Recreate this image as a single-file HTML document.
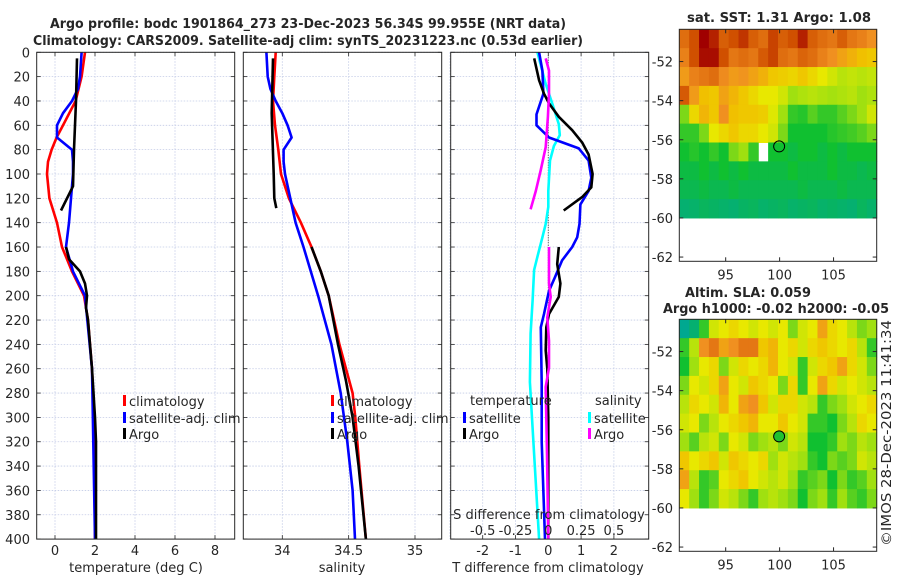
<!DOCTYPE html>
<html><head><meta charset="utf-8"><style>
html,body{margin:0;padding:0;background:#fff;width:900px;height:580px;overflow:hidden}
svg{display:block;font-family:"DejaVu Sans","Liberation Sans",sans-serif}
text{fill:#262626;font-size:13px}
</style></head><body>
<svg id="fig" width="900" height="580" viewBox="0 0 900 580"></svg>
<script>
// ---------- DATA ----------
const depthTicks=[0,20,40,60,80,100,120,140,160,180,200,220,240,260,280,300,320,340,360,380,400];
const tempTicks=[0,2,4,6,8];
const salTicks=[34,34.5,35];
const salTickLabels=["34","34.5","35"];
const tdiffTicks=[-2,-1,0,1,2];
const sdiffTicks=[-0.5,-0.25,0,0.25,0.5];
const sdiffTickLabels=["-0.5","-0.25","0","0.25","0.5"];

const climTDepth=[0,20,40,60,70,80,90,100,120,140,160,180,200,220,260,300,400];
const climT=[1.5,1.33,1.03,0.4,0.08,-0.17,-0.35,-0.4,-0.28,0.1,0.35,0.85,1.45,1.65,1.85,1.95,2.0];
const satTDepth=[0,20,30,40,50,60,70,80,90,100,110,120,140,160,180,200,260,400];
const satT=[1.33,1.25,1.15,0.85,0.4,0.1,0.1,0.85,0.9,0.9,0.85,0.8,0.7,0.55,0.9,1.5,1.85,2.0];
const argoT1Depth=[5,40,80,110,115,130];
const argoT1=[1.1,1.05,0.95,0.9,0.75,0.3];
const argoT2Depth=[160,170,180,190,200,210,220,240,260,300,320,400];
const argoT2=[0.55,0.7,1.25,1.5,1.6,1.55,1.65,1.75,1.85,2.0,2.05,2.05];

const climSDepth=[0,20,40,60,80,100,120,140,160,180,200,240,280,300,340,400];
const climS=[33.95,33.94,33.93,33.945,33.97,33.99,34.05,34.14,34.22,34.29,34.35,34.43,34.53,34.55,34.58,34.63];
const satSDepth=[0,20,30,40,50,60,70,80,90,100,120,140,160,200,240,280,320,360,400];
const satS=[33.88,33.89,33.91,33.95,34.0,34.04,34.07,34.01,34.01,34.02,34.06,34.1,34.16,34.27,34.37,34.44,34.49,34.53,34.548];
const argoS1Depth=[5,50,100,120,128];
const argoS1=[33.93,33.92,33.935,33.94,33.955];
const argoS2Depth=[160,180,200,240,270,300,340,400];
const argoS2=[34.22,34.29,34.35,34.42,34.48,34.53,34.575,34.63];

const dArgoT1Depth=[5,23,34,42,53,64,74,84,100,111,119,130];
const dArgoT1=[-0.43,-0.28,-0.13,0.02,0.32,0.73,1.03,1.23,1.35,1.31,1.03,0.47];
const dArgoT2Depth=[160,174,190,201,215,226,245,260,300,400];
const dArgoT2=[0.32,0.27,0.37,0.32,0.02,-0.06,-0.08,-0.03,0,0];
const dSatTDepth=[0,15,34,51,60,70,79,89,103,114,125,141,152,160,171,185,196,215,226,272,320,400];
const dSatT=[-0.28,-0.18,-0.15,-0.36,-0.36,0.02,0.93,1.23,1.31,1.23,0.98,0.95,0.88,0.73,0.42,0.2,0.02,-0.13,-0.23,-0.2,-0.2,-0.1];
const dSatSDepth=[0,26,42,59,68,77,89,114,127,141,152,168,179,204,231,271,400];
const dSatS=[-0.083,-0.02,0.03,0.08,0.088,0.043,0.013,0,0,-0.02,-0.045,-0.083,-0.108,-0.12,-0.135,-0.14,-0.07];
const dArgoS1Depth=[5,15,34,53,78,97,114,129];
const dArgoS1=[-0.02,0.005,0.005,-0.003,-0.02,-0.058,-0.095,-0.135];
const dArgoS2Depth=[160,190,201,218,237,259,275,330,400];
const dArgoS2=[0.005,0.005,0.018,-0.008,0.005,0.005,-0.02,-0.01,0];

const latTicks=[-52,-54,-56,-58,-60,-62];
const lonTicks=[95,100,105];
const argoLon=99.955, argoLat=-56.34;
const sstGrid=[
[.82,.88,1,.95,.85,.88,.92,.85,.82,.9,.85,.88,.95,.85,.82,.8,.85,.8,.78,.75],
[.78,.88,.98,.98,.88,.8,.82,.8,.86,.9,.82,.8,.84,.82,.78,.75,.7,.66,.62,.6],
[.72,.78,.8,.82,.76,.72,.74,.7,.66,.6,.58,.56,.6,.55,.5,.45,.4,.42,.4,.42],
[.86,.72,.62,.6,.7,.65,.6,.55,.5,.5,.45,.35,.38,.4,.38,.36,.38,.4,.35,.38],
[.3,.55,.65,.6,.75,.62,.6,.6,.58,.48,.35,.2,.18,.25,.2,.2,.25,.3,.35,.45],
[.2,.2,.3,.5,.55,.6,.55,.55,.5,.45,.3,.15,.15,.15,.15,.18,.2,.22,.25,.3],
[.15,.18,.15,.2,.15,.3,.35,.2,null,.15,.15,.12,.15,.15,.12,.15,.12,.15,.15,.15],
[.12,.12,.15,.12,.15,.12,.15,.12,.12,.12,.12,.15,.12,.12,.12,.15,.12,.12,.1,.12],
[.1,.1,.12,.1,.1,.12,.1,.1,.1,.1,.1,.1,.12,.1,.1,.1,.12,.1,.1,.1],
[.05,.06,.08,.07,.06,.05,.07,.08,.06,.07,.08,.06,.07,.08,.06,.07,.06,.05,.08,.06]];
const slaGrid=[
[.0,.05,.2,.45,.5,.55,.5,.45,.5,.45,.5,.3,.45,.5,.7,.55,.5,.4,.3,.35],
[.2,.4,.75,.8,.7,.75,.8,.8,.6,.65,.5,.55,.45,.55,.6,.55,.5,.55,.4,.2],
[.15,.35,.5,.55,.3,.45,.55,.5,.55,.65,.5,.45,.2,.45,.55,.6,.7,.55,.45,.3],
[.3,.5,.45,.55,.7,.5,.45,.6,.55,.5,.3,.55,.2,.5,.7,.55,.45,.5,.45,.4],
[.4,.55,.5,.45,.65,.5,.7,.75,.6,.45,.55,.55,.45,.4,.2,.3,.35,.45,.5,.55],
[.45,.5,.3,.4,.5,.55,.6,.65,.5,.5,.6,.5,.45,.2,.2,.15,.3,.4,.55,.5],
[.35,.25,.4,.45,.3,.5,.45,.3,.35,.4,.3,.45,.4,.15,.15,.2,.35,.3,.4,.35],
[.6,.5,.55,.6,.45,.6,.55,.5,.55,.35,.45,.4,.35,.2,.15,.3,.25,.3,.45,.4],
[.7,.4,.2,.25,.5,.55,.6,.5,.45,.4,.45,.35,.2,.25,.3,.15,.3,.2,.25,.35],
[.5,.35,.2,.3,.45,.4,.3,.2,.35,.4,.35,.3,.15,.3,.35,.2,.35,.25,.2,.3]];

// ---------- HELPERS ----------
const NS="http://www.w3.org/2000/svg";
const svg=document.getElementById('fig');
function mk(tag,attrs,parent){const e=document.createElementNS(NS,tag);for(const k in attrs)e.setAttribute(k,attrs[k]);(parent||svg).appendChild(e);return e;}
function txt(s,x,y,attrs,parent){const t=mk('text',Object.assign({x:x,y:y},attrs||{}),parent);t.textContent=s;return t;}
const yD=d=>52.3+1.217*d;
const TOP=52.3, BOT=yD(400);

function panel(name,x0,x1,xs,ticks,labels,gridVals){
  const g=mk('g',{});
  
  
  mk('rect',{x:x0,y:TOP,width:x1-x0,height:BOT-TOP,fill:'#fff'},g);
  gridVals.forEach(v=>{const gl=mk('line',{x1:xs(v),x2:xs(v),y1:TOP,y2:BOT,stroke:'#c3cbe6','stroke-width':0.8,'stroke-dasharray':'1.5,1.5'},g);
    });
  depthTicks.forEach(d=>{const gl=mk('line',{x1:x0,x2:x1,y1:yD(d),y2:yD(d),stroke:'#c3cbe6','stroke-width':0.8,'stroke-dasharray':'1.5,1.5'},g);
    
    mk('line',{x1:x0,x2:x0+4,y1:yD(d),y2:yD(d),stroke:'#262626','stroke-width':0.8},g);
    mk('line',{x1:x1-4,x2:x1,y1:yD(d),y2:yD(d),stroke:'#262626','stroke-width':0.8},g);});
  ticks.forEach((v,i)=>{
    mk('line',{x1:xs(v),x2:xs(v),y1:BOT,y2:BOT-4,stroke:'#262626','stroke-width':0.8},g);
    mk('line',{x1:xs(v),x2:xs(v),y1:TOP,y2:TOP+4,stroke:'#262626','stroke-width':0.8},g);
    const t=txt(labels[i],xs(v),555,{'text-anchor':'middle'},g);
    
  });
  return g;
}
function frame(x0,x1){const r=mk('rect',{x:x0,y:TOP,width:x1-x0,height:BOT-TOP,fill:'none',stroke:'#262626','stroke-width':1});
  }
function line(name,depths,vals,xs,color,w){
  const pts=depths.map((d,i)=>xs(vals[i]).toFixed(1)+','+yD(d).toFixed(1)).join(' ');
  const p=mk('polyline',{points:pts,fill:'none',stroke:color,'stroke-width':w||2.6,'stroke-linejoin':'round'});
  
  
  return p;
}
function legendEntry(name,x,y,color,label){
  const g=mk('g',{});
  
  
  mk('rect',{x:x,y:y-6,width:3,height:11,fill:color},g);
  txt(label,x+6,y+5,{},g);
}

// ---------- TITLE ----------
let t=txt('Argo profile: bodc 1901864_273 23-Dec-2023 56.34S 99.955E (NRT data)',308,28,{'text-anchor':'middle','font-weight':'bold','font-size':'13.5px',textLength:516,lengthAdjust:'spacingAndGlyphs'});

t=txt('Climatology: CARS2009. Satellite-adj clim: synTS_20231223.nc (0.53d earlier)',308,45,{'text-anchor':'middle','font-weight':'bold','font-size':'13.5px',textLength:550,lengthAdjust:'spacingAndGlyphs'});


depthTicks.forEach(d=>{const l=txt(String(d),30,yD(d)+5,{'text-anchor':'end'});
  });

// ---------- PANEL 1 ----------
const xT=v=>55+20*v;
panel('temperature-panel',36.7,234.7,xT,tempTicks,tempTicks.map(String),tempTicks);
line('temperature-climatology-line',climTDepth,climT,xT,'#ff0000');
line('temperature-satellite-line',satTDepth,satT,xT,'#0000ff');
line('temperature-argo-line-upper',argoT1Depth,argoT1,xT,'#000');
line('temperature-argo-line-lower',argoT2Depth,argoT2,xT,'#000');
legendEntry('legend-climatology',123,401,'#ff0000','climatology');
legendEntry('legend-satellite-adj-clim',123,418,'#0000ff','satellite-adj. clim');
legendEntry('legend-argo',123,434,'#000','Argo');
frame(36.7,234.7);
t=txt('temperature (deg C)',136,572,{'text-anchor':'middle'});

// ---------- PANEL 2 ----------
const xS=v=>282.3+132.7*(v-34);
panel('salinity-panel',243.3,441.7,xS,salTicks,salTickLabels,salTicks);
line('salinity-climatology-line',climSDepth,climS,xS,'#ff0000');
line('salinity-satellite-line',satSDepth,satS,xS,'#0000ff');
line('salinity-argo-line-upper',argoS1Depth,argoS1,xS,'#000');
line('salinity-argo-line-lower',argoS2Depth,argoS2,xS,'#000');
legendEntry('legend-climatology-2',331,401,'#ff0000','climatology');
legendEntry('legend-satellite-adj-clim-2',331,418,'#0000ff','satellite-adj. clim');
legendEntry('legend-argo-2',331,434,'#000','Argo');
frame(243.3,441.7);
t=txt('salinity',342,572,{'text-anchor':'middle'});

// ---------- PANEL 3 ----------
const xD=v=>548.3+32.8*v;
const xDS=v=>548.3+131.2*v;
panel('difference-panel',450.7,648.7,xD,tdiffTicks,tdiffTicks.map(String),[-3,-2,-1,0,1,2]);
const zl=mk('line',{x1:xD(0),x2:xD(0),y1:yD(0),y2:BOT,stroke:'#444','stroke-width':1,'stroke-dasharray':'1,1.5'});

line('sdiff-satellite-line',dSatSDepth,dSatS,xDS,'#00ffff');
line('tdiff-satellite-line',dSatTDepth,dSatT,xD,'#0000ff');
line('tdiff-argo-line-upper',dArgoT1Depth,dArgoT1,xD,'#000');
line('tdiff-argo-line-lower',dArgoT2Depth,dArgoT2,xD,'#000');
line('sdiff-argo-line-upper',dArgoS1Depth,dArgoS1,xDS,'#ff00ff');
line('sdiff-argo-line-lower',dArgoS2Depth,dArgoS2,xDS,'#ff00ff');
t=txt('temperature',470,405,{});
t=txt('salinity',595,405,{});
legendEntry('legend-t-satellite',463,418,'#0000ff','satellite');
legendEntry('legend-t-argo',463,434,'#000','Argo');
legendEntry('legend-s-satellite',588,418,'#00ffff','satellite');
legendEntry('legend-s-argo',588,434,'#ff00ff','Argo');
t=txt('S difference from climatology',549,519,{'text-anchor':'middle'});
sdiffTicks.forEach((v,i)=>{const l=txt(sdiffTickLabels[i],xDS(v),535,{'text-anchor':'middle'});
  });
frame(450.7,648.7);
t=txt('T difference from climatology',548,572,{'text-anchor':'middle'});

// ---------- MAPS ----------
const stops=[[0,[0,168,144]],[0.15,[16,192,48]],[0.35,[160,224,16]],[0.5,[232,232,0]],[0.62,[240,192,0]],[0.75,[240,144,32]],[0.88,[208,80,0]],[1,[160,0,0]]];
function cmap(v){for(let i=1;i<stops.length;i++){if(v<=stops[i][0]){const a=stops[i-1],b=stops[i],f=(v-a[0])/(b[0]-a[0]);
  return 'rgb('+a[1].map((c,k)=>Math.round(c+f*(b[1][k]-c))).join(',')+')';}}return 'rgb(160,0,0)';}
function mapPanel(name,top,grid,filledMarker){
  const L=679.3,R=876.7,H=232;
  const lonS=v=>L+(v-90.7)*(R-L)/(109-90.7);
  const latS=v=>top+(-50.35-v)*19.55;
  const g=mk('g',{});
  
  
  const rows=grid.length, cols=grid[0].length;
  const y0=top, y1=latS(-60);
  for(let r=0;r<rows;r++)for(let c=0;c<cols;c++){
    const v=grid[r][c]; if(v===null)continue;
    const cell=mk('rect',{x:L+c*(R-L)/cols,y:y0+r*(y1-y0)/rows,width:(R-L)/cols+0.5,height:(y1-y0)/rows+0.5,fill:cmap(v)},g);
    
    
  }
  const fr=mk('rect',{x:L,y:top,width:R-L,height:H,fill:'none',stroke:'#262626','stroke-width':1},g);
  
  latTicks.forEach(v=>{const y=latS(v);
    mk('line',{x1:L,x2:L+4,y1:y,y2:y,stroke:'#262626'},g);mk('line',{x1:R-4,x2:R,y1:y,y2:y,stroke:'#262626'},g);
    const l=txt(String(v),673,y+5,{'text-anchor':'end'},g);});
  lonTicks.forEach(v=>{const x=lonS(v);
    mk('line',{x1:x,x2:x,y1:top,y2:top+4,stroke:'#262626'},g);mk('line',{x1:x,x2:x,y1:top+H-4,y2:top+H,stroke:'#262626'},g);
    const l=txt(String(v),x,top+H+18,{'text-anchor':'middle'},g);});
  const m=mk('circle',{cx:lonS(argoLon),cy:latS(argoLat),r:5.5,fill:filledMarker?'#20c030':'none',stroke:'#000','stroke-width':1},g);
  
}
mapPanel('sst-map',29.3,sstGrid,false);
mapPanel('sla-map',319.3,slaGrid,true);
t=txt('sat. SST: 1.31 Argo: 1.08',779,22,{'text-anchor':'middle','font-weight':'bold','font-size':'13px',textLength:184,lengthAdjust:'spacingAndGlyphs'});

t=txt('Altim. SLA: 0.059',685,297,{'font-weight':'bold','font-size':'13px',textLength:126,lengthAdjust:'spacingAndGlyphs'});

t=txt('Argo h1000: -0.02 h2000: -0.05',663,313,{'font-weight':'bold','font-size':'13px',textLength:226,lengthAdjust:'spacingAndGlyphs'});

t=txt('©IMOS 28-Dec-2023 11:41:34',0,0,{transform:'translate(891,546) rotate(-90)',textLength:226,lengthAdjust:'spacingAndGlyphs'});

</script>
</body></html>
